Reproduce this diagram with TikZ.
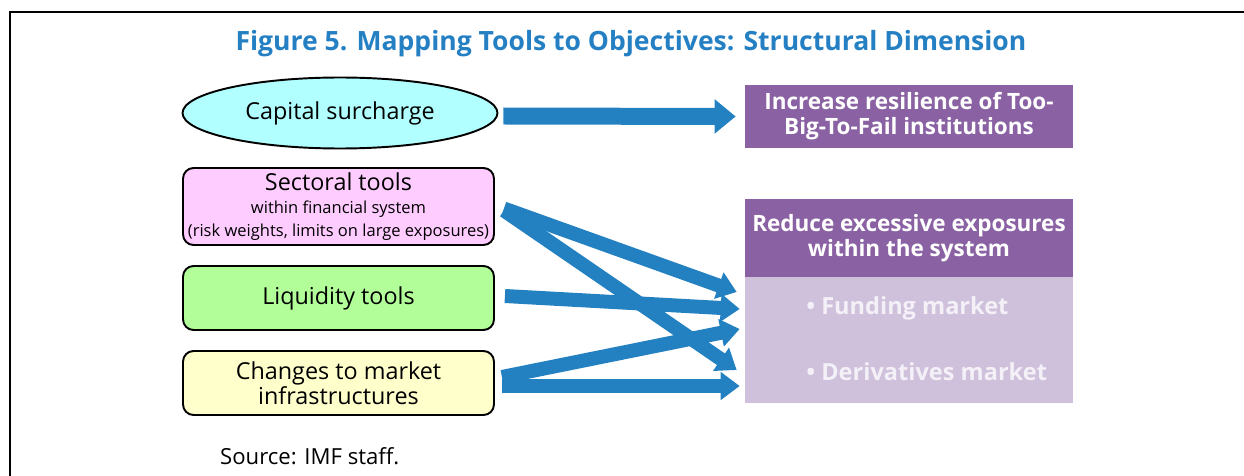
\documentclass[tikz,border=0pt]{standalone}
\usepackage{fontspec}
\setmainfont{Open Sans}
\usetikzlibrary{shapes.geometric}
\usetikzlibrary{arrows.meta}
\usetikzlibrary{calc}

\definecolor{figblue}{HTML}{2580C3}
\definecolor{arrowblue}{HTML}{2481C1}
\definecolor{goalpurple}{HTML}{8A62A3}
\definecolor{lowpurple}{HTML}{CFC0DB}
\definecolor{itemwhite}{HTML}{F4F0F7}
\definecolor{capcyan}{HTML}{B2FFFF}
\definecolor{sectpink}{HTML}{FFCCFF}
\definecolor{liqgreen}{HTML}{B2FF99}
\definecolor{chgyellow}{HTML}{FFFFCC}
\newcommand\subtxt{\fontsize{9.4}{11.3}\selectfont}

\begin{document}
\begin{tikzpicture}[x=0.02cm, y=-0.02cm,
    tool/.style={draw, line width=1.1pt, rounded corners=6pt, minimum width=6.22cm,
        align=center, inner sep=0pt, font=\fontsize{13.3}{14.2}\selectfont},
    goal/.style={fill=goalpurple, text=white, minimum width=6.56cm, align=center,
        inner sep=0pt, font=\bfseries\fontsize{12.8}{14.2}\selectfont},
    item/.style={text=itemwhite, inner sep=0pt, font=\bfseries\fontsize{13.4}{15}\selectfont},
    fat/.style={draw=arrowblue, line width=0.28cm, -{Triangle[width=0.54cm, length=0.38cm]}},
]
    \useasboundingbox (0,0) rectangle (1244,476);
    \draw[line width=1.1pt] (10,476) -- (10,12) -- (1244,12);

    \node[text=figblue, font=\bfseries\fontsize{15.1}{18}\selectfont] (title) at (631,44)
        {Figure 5. Mapping Tools to Objectives: Structural Dimension};

    % tools on the left
    \node[ellipse, draw, line width=1.1pt, fill=capcyan, minimum width=6.3cm, minimum height=1.42cm,
        inner sep=0pt, font=\fontsize{13.3}{15}\selectfont] (cap) at (340,113) {Capital surcharge};
    \node[tool, fill=sectpink, minimum height=1.54cm] (sect) at (338.5,206.5)
        {Sectoral tools\\[-1pt] \subtxt within financial system\\[-1pt] \subtxt (risk weights, limits on large exposures)};
    \node[tool, fill=liqgreen, minimum height=1.28cm] (liq) at (338.5,298) {Liquidity tools};
    \node[tool, fill=chgyellow, minimum height=1.28cm] (chg) at (338.5,383)
        {Changes to market\\infrastructures};

    % objectives on the right
    \node[goal, minimum height=1.26cm] (res) at (909,116.5)
        {Increase resilience of Too-\\Big-To-Fail institutions};
    \node[goal, minimum height=1.56cm] (red) at (909,238)
        {Reduce excessive exposures\\within the system};
    \node[fill=lowpurple, minimum width=6.56cm, minimum height=2.52cm, inner sep=0pt] (low) at (909,340) {};
    \node[item, anchor=west] (fund) at (806,308) {• Funding market};
    \node[item, anchor=west] (deriv) at (806,372) {• Derivatives market};

    \node[anchor=west, font=\fontsize{12.6}{15}\selectfont] (src) at (214,456) {Source: IMF staff.};

    % arrows
    \draw[fat, line width=0.34cm, -{Triangle[width=0.66cm, length=0.42cm]}]
        ($(cap.east)+(5,3)$) -- ($(res.west)+(-9,0)$);
    \draw[fat] ($(sect.east)+(9,2)$) -- ($(low.west)+(-8,-48)$);
    \draw[fat] ($(sect.east)+(9,4)$) -- ($(low.west)+(-8,30)$);
    \draw[fat] ($(liq.east)+(10,-2)$) -- ($(low.west)+(-5,-31)$);
    \draw[fat] ($(chg.east)+(7,-6)$) -- ($(low.west)+(-5,-11)$);
    \draw[fat] ($(chg.east)+(7,3)$) -- ($(low.west)+(-5,46)$);
\end{tikzpicture}
\end{document}
